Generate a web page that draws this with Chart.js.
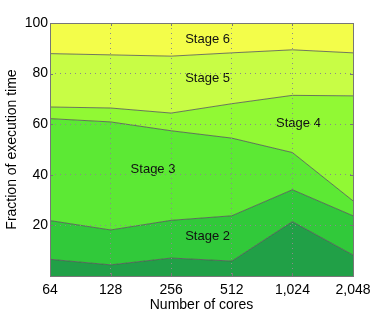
<!DOCTYPE html>
<html lang="en">
<head>
    <meta charset="UTF-8">
    <title>Stages</title>
    <script src="https://cdn.jsdelivr.net/npm/chart.js@4.4.0/dist/chart.umd.min.js"></script>
    <style>
        body { margin: 0; background: #fff; }
        #wrap { width: 390px; height: 312px; }
    </style>
</head>
<body>
    <div id="wrap"><canvas id="myChart" width="390" height="312"></canvas></div>
    <script>
        // cores on the x axis
        const cores = ['64', '128', '256', '512', '1,024', '2,048'];

        // share of execution time per stage (stacked to 100)
        const stage1 = [6.6, 4.4, 7.1, 5.9, 21.5, 8.3];
        const stage2 = [15.3, 13.8, 14.9, 17.9, 12.6, 15.5];
        const stage3 = [40.3, 42.7, 35.4, 30.7, 14.7, 5.9];
        const stage4 = [4.6, 5.5, 7.0, 13.6, 22.6, 41.5];
        const stage5 = [21.1, 21.0, 22.5, 20.1, 18.0, 17.0];
        const stage6 = [12.1, 12.6, 13.1, 11.8, 10.6, 11.8];

        const yTicks = [20, 40, 60, 80, 100];

        // where the stage names sit, in data units (category index, value)
        const stageLabels = [
            { text: 'Stage 6', x: 2.6, y: 93.5 },
            { text: 'Stage 5', x: 2.6, y: 78 },
            { text: 'Stage 4', x: 4.1, y: 60.2 },
            { text: 'Stage 3', x: 1.7, y: 42.3 },
            { text: 'Stage 2', x: 2.6, y: 15.6 }
        ];

        const colors = ['#21a047', '#31c93a', '#5ce934', '#91f934', '#c8fd45', '#f3fd4a'];
        const series = [stage1, stage2, stage3, stage4, stage5, stage6];

        const fontFam = '"Liberation Sans", Arial, sans-serif';

        const stageText = {
            id: 'stageText',
            afterDatasetsDraw(chart) {
                const ctx = chart.ctx;
                const xs = chart.scales.x, ys = chart.scales.y;
                ctx.save();
                ctx.font = '13px ' + fontFam;
                ctx.fillStyle = '#111';
                ctx.textAlign = 'center';
                ctx.textBaseline = 'middle';
                stageLabels.forEach(l => {
                    ctx.fillText(l.text, xs.getPixelForValue(l.x), ys.getPixelForValue(l.y));
                });
                ctx.restore();
            }
        };

        const frame = {
            id: 'frame',
            afterDraw(chart) {
                const ctx = chart.ctx;
                const a = chart.chartArea;
                const xs = chart.scales.x, ys = chart.scales.y;
                ctx.save();
                ctx.strokeStyle = '#777';
                ctx.lineWidth = 1;
                ctx.beginPath();
                // inward tick marks
                cores.forEach((c, i) => {
                    const px = Math.round(xs.getPixelForValue(i)) + 0.5;
                    ctx.moveTo(px, a.bottom); ctx.lineTo(px, a.bottom - 3);
                    ctx.moveTo(px, a.top); ctx.lineTo(px, a.top + 3);
                });
                yTicks.forEach(v => {
                    const py = Math.round(ys.getPixelForValue(v)) + 0.5;
                    ctx.moveTo(a.left, py); ctx.lineTo(a.left + 3, py);
                    ctx.moveTo(a.right, py); ctx.lineTo(a.right - 3, py);
                });
                ctx.stroke();
                ctx.strokeRect(Math.round(a.left) + 0.5, Math.round(a.top) + 0.5,
                    Math.round(a.right - a.left), Math.round(a.bottom - a.top));
                ctx.restore();
            }
        };

        const ctx = document.getElementById('myChart').getContext('2d');
        const myChart = new Chart(ctx, {
            type: 'line',
            data: {
                labels: cores,
                datasets: series.map((d, i) => ({
                    label: 'Stage ' + (i + 1),
                    data: d,
                    backgroundColor: colors[i],
                    borderColor: '#555',
                    borderWidth: 0.8,
                    pointRadius: 0,
                    tension: 0,
                    fill: i === 0 ? 'origin' : '-1'
                }))
            },
            options: {
                responsive: false,
                animation: false,
                layout: { padding: { top: 23, right: 37, left: 0, bottom: 0 } },
                plugins: {
                    legend: { display: false },
                    tooltip: { enabled: false }
                },
                scales: {
                    x: {
                        offset: false,
                        grid: { z: 1, color: '#8a8a8a', lineWidth: 1, drawTicks: false },
                        border: { display: false, dash: [1, 4] },
                        ticks: { color: '#000', padding: 6, maxRotation: 0, font: { family: fontFam, size: 14 } },
                        title: { display: true, text: 'Number of cores', color: '#000', padding: { top: 0, bottom: -2 }, font: { family: fontFam, size: 14 } },
                        afterFit(scale) { scale.height = 36; }
                    },
                    y: {
                        stacked: true,
                        min: 0,
                        max: 100,
                        afterBuildTicks(scale) { scale.ticks = [0].concat(yTicks).map(v => ({ value: v })); },
                        grid: { z: 1, color: '#8a8a8a', lineWidth: 1, drawTicks: false },
                        border: { display: false, dash: [1, 4] },
                        ticks: {
                            color: '#000', padding: 2,
                            font: { family: fontFam, size: 14 },
                            callback: v => v === 0 ? '' : v
                        },
                        title: { display: true, text: 'Fraction of execution time', color: '#000', padding: { top: 4, bottom: 0 }, font: { family: fontFam, size: 14 } },
                        afterFit(scale) { scale.width = 50; }
                    }
                }
            },
            plugins: [stageText, frame]
        });
    </script>
</body>
</html>
